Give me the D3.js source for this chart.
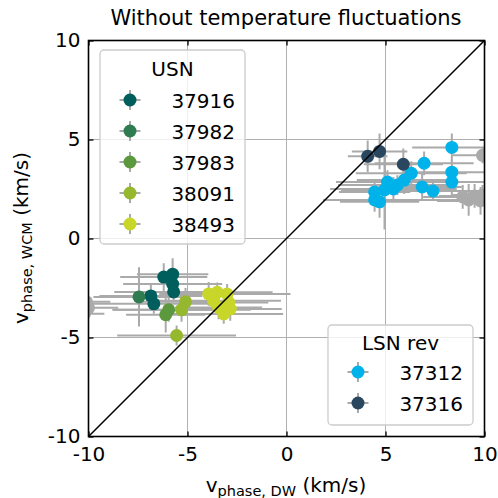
<!DOCTYPE html>
<html>
<head>
<meta charset="utf-8">
<script src="https://cdn.jsdelivr.net/npm/d3@7"></script>
<style>
  body { margin: 0; background: #fff; }
  svg text { font-family: "DejaVu Sans", sans-serif; fill: #000; }
</style>
</head>
<body>
<svg width="498" height="498"></svg>
<script>
// each point: [x, y, xerr, yerr] in km/s
const usn37916 = [[-6.85,-2.9,2.6,0.6],[-6.7,-3.3,3.2,0.5],[-6.2,-1.95,2.2,0.7],[-5.75,-1.8,1.8,0.8],[-5.75,-2.3,2.5,0.6],[-5.7,-2.7,3.0,0.5]];
const usn37982 = [[-7.45,-2.95,2.3,1.5]];
const usn37983 = [[-6.1,-3.85,2.0,0.9],[-5.95,-3.6,2.8,0.6]];
const usn38091 = [[-5.1,-3.2,2.4,0.7],[-5.3,-3.6,3.5,0.6],[-5.55,-4.9,3.0,0.5]];
const usn38493 = [[-3.93,-2.8,2.5,0.6],[-3.5,-2.72,2.8,0.5],[-3.0,-2.8,3.2,0.5],[-2.92,-3.23,2.0,0.5],[-2.84,-3.56,2.6,0.6],[-3.17,-3.81,3.0,0.5],[-3.43,-3.48,2.2,0.6],[-3.68,-3.14,3.4,0.5]];
const lsn37312 = [[8.35,4.6,2.0,0.7],[8.35,3.35,1.8,0.6],[8.35,2.85,2.2,0.8],[6.95,3.8,2.5,0.6],[6.85,2.6,2.0,0.7],[7.4,2.4,2.5,0.5],[6.3,3.3,2.8,0.6],[5.95,2.95,2.4,0.7],[5.6,2.7,3.0,0.5],[5.1,2.85,2.6,0.6],[4.95,2.45,2.2,2.0],[4.45,2.35,1.8,0.5],[4.45,1.95,2.6,0.6],[4.7,1.85,2.0,0.8],[5.4,2.5,3.2,0.6]];
const lsn37316 = [[4.1,4.15,1.0,0.8],[4.7,4.4,1.4,0.9],[5.9,3.75,2.0,0.8]];
const outOfRange = [[-10.1,-3.2,1.2,0.3],[-10.0,-3.5,1.5,0.4],[-10.2,-3.8,1.0,0.3],[9.9,4.2,1.5,0.4],[8.9,2.1,2.0,0.6],[9.2,1.95,2.5,0.8],[9.5,2.15,1.8,0.6],[9.8,1.9,2.2,0.7],[9.9,2.2,1.5,0.5]];

const usnNames = ["37916", "37982", "37983", "38091", "38493"];
const lsnNames = ["37312", "37316"];
const xTicks = [-10, -5, 0, 5, 10],
      yTicks = [-10, -5, 0, 5, 10];

const series = [
  {name: "37916", data: usn37916, color: "#005e5c"},
  {name: "37982", data: usn37982, color: "#2e7c50"},
  {name: "37983", data: usn37983, color: "#5c993e"},
  {name: "38091", data: usn38091, color: "#95b82e"},
  {name: "38493", data: usn38493, color: "#c8d62a"},
  {name: "37312", data: lsn37312, color: "#00b2ea"},
  {name: "37316", data: lsn37316, color: "#2a4760"},
  {name: "", data: outOfRange, color: "#aaaaaa"}
];
const colorOf = n => series.find(s => s.name === n).color;

const errColor = "#aaaaaa",
      r = 6.5,
      fs = 20;

var svg = d3.select("svg");
const pl = 88.5, pr = 484.5, pt = 40.5, pb = 436.5;

var x = d3.scaleLinear().domain([-10, 10]).range([pl, pr]);
var y = d3.scaleLinear().domain([-10, 10]).range([pb, pt]);

svg.append("clipPath").attr("id", "clip")
  .append("rect")
    .attr("x", pl).attr("y", pt)
    .attr("width", pr - pl).attr("height", pb - pt);

// grid
var grid = svg.append("g").attr("clip-path", "url(#clip)");
grid.selectAll(".gx").data(xTicks).enter().append("line")
    .attr("x1", d => x(d)).attr("x2", d => x(d))
    .attr("y1", pt).attr("y2", pb)
    .attr("stroke", "#b0b0b0").attr("stroke-width", 1);
grid.selectAll(".gy").data(yTicks).enter().append("line")
    .attr("y1", d => y(d)).attr("y2", d => y(d))
    .attr("x1", pl).attr("x2", pr)
    .attr("stroke", "#b0b0b0").attr("stroke-width", 1);

var plot = svg.append("g").attr("clip-path", "url(#clip)");

// error bars then markers
series.forEach(s => {
  let g = plot.append("g");
  g.selectAll(".ex").data(s.data).enter().append("line")
      .attr("x1", d => x(d[0] - d[2])).attr("x2", d => x(d[0] + d[2]))
      .attr("y1", d => y(d[1])).attr("y2", d => y(d[1]))
      .attr("stroke", errColor).attr("stroke-width", 2);
  g.selectAll(".ey").data(s.data).enter().append("line")
      .attr("x1", d => x(d[0])).attr("x2", d => x(d[0]))
      .attr("y1", d => y(d[1] - d[3])).attr("y2", d => y(d[1] + d[3]))
      .attr("stroke", errColor).attr("stroke-width", 2);
});
series.forEach(s => {
  plot.append("g").selectAll("circle").data(s.data).enter().append("circle")
      .attr("cx", d => x(d[0])).attr("cy", d => y(d[1]))
      .attr("r", r).attr("fill", s.color);
});

// 1:1 line
plot.append("line")
    .attr("x1", x(-10)).attr("y1", y(-10))
    .attr("x2", x(10)).attr("y2", y(10))
    .attr("stroke", "#000").attr("stroke-width", 1.5);

// axes, ticks pointing inward on all sides
const fmt = d => d3.format("d")(d).replace("−", "-");
var xAxis = d3.axisBottom(x).tickValues(xTicks).tickSize(-5).tickPadding(10).tickFormat(fmt);
var yAxis = d3.axisLeft(y).tickValues(yTicks).tickSize(-5).tickPadding(8).tickFormat(fmt);
var xTop = d3.axisTop(x).tickValues(xTicks).tickSize(-5).tickFormat("");
var yRight = d3.axisRight(y).tickValues(yTicks).tickSize(-5).tickFormat("");

const styleAxis = sel => {
  sel.select(".domain").remove();
  sel.selectAll(".tick line").attr("stroke", "#000").attr("stroke-width", 1.3);
  sel.selectAll(".tick text").attr("font-size", fs).attr("font-family", "DejaVu Sans");
};
svg.append("g").attr("transform", `translate(0,${pb})`).call(xAxis).call(styleAxis);
svg.append("g").attr("transform", `translate(${pl},0)`).call(yAxis).call(styleAxis);
svg.append("g").attr("transform", `translate(0,${pt})`).call(xTop).call(styleAxis);
svg.append("g").attr("transform", `translate(${pr},0)`).call(yRight).call(styleAxis);

svg.append("rect")
    .attr("x", pl).attr("y", pt)
    .attr("width", pr - pl).attr("height", pb - pt)
    .attr("fill", "none").attr("stroke", "#000").attr("stroke-width", 1.6);

// legends
const legend = (names, title, bx, by, bw, bh, mx, lx, ty, y0, dy) => {
  let g = svg.append("g");
  g.append("rect")
      .attr("x", bx).attr("y", by).attr("width", bw).attr("height", bh)
      .attr("rx", 4).attr("fill", "#fff").attr("fill-opacity", 0.8)
      .attr("stroke", "#cccccc").attr("stroke-width", 1.3);
  g.append("text")
      .attr("x", bx + bw / 2).attr("y", ty)
      .attr("text-anchor", "middle").attr("font-size", fs)
      .text(title);
  let it = g.selectAll(".item").data(names).enter().append("g")
      .attr("transform", (d, i) => `translate(0,${y0 + i * dy})`);
  it.append("line").attr("x1", mx - 10.5).attr("x2", mx + 10.5)
      .attr("stroke", errColor).attr("stroke-width", 2);
  it.append("line").attr("y1", -10).attr("y2", 10).attr("x1", mx).attr("x2", mx)
      .attr("stroke", errColor).attr("stroke-width", 2);
  it.append("circle").attr("cx", mx).attr("r", r).attr("fill", d => colorOf(d));
  it.append("text").attr("x", lx).attr("y", 7.5)
      .attr("text-anchor", "end").attr("font-size", fs)
      .text(d => d);
};
legend(usnNames, "USN", 100, 50, 145, 194, 130, 235, 76, 100, 31);
legend(lsnNames, "LSN rev", 328, 325, 145, 100, 358, 463, 350, 372, 31);

// title and labels
svg.append("text")
    .attr("x", 286).attr("y", 25)
    .attr("text-anchor", "middle").attr("font-size", 21)
    .text("Without temperature fluctuations");

let xl = svg.append("text")
    .attr("x", 286).attr("y", 492)
    .attr("text-anchor", "middle").attr("font-size", fs);
xl.append("tspan").text("v");
xl.append("tspan").attr("font-size", 14.5).attr("dy", 3.5).text("phase, DW");
xl.append("tspan").attr("dy", -3.5).text(" (km/s)");

let yl = svg.append("text")
    .attr("transform", "translate(28,238) rotate(-90)")
    .attr("text-anchor", "middle").attr("font-size", fs);
yl.append("tspan").text("v");
yl.append("tspan").attr("font-size", 14.5).attr("dy", 3.5).text("phase, WCM");
yl.append("tspan").attr("dy", -3.5).text(" (km/s)");
</script>
</body>
</html>
